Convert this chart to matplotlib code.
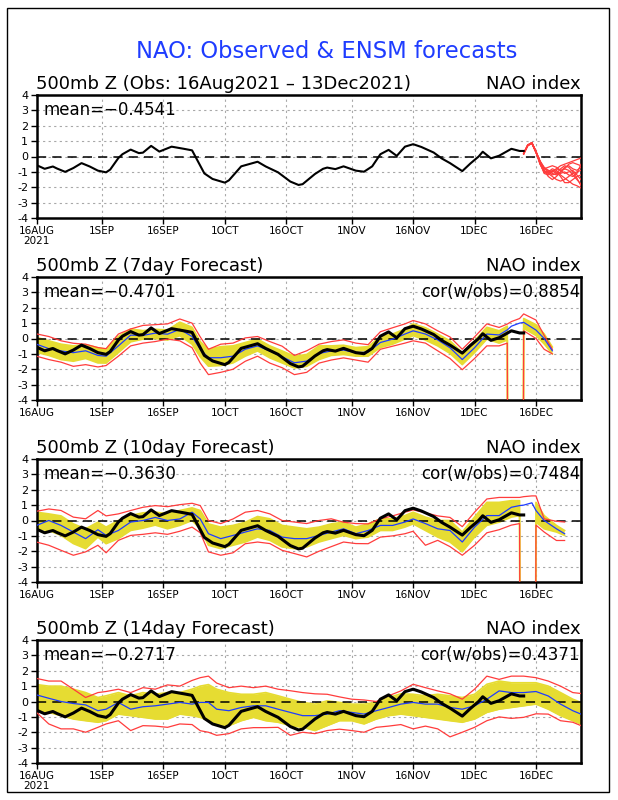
import numpy as np
import matplotlib
matplotlib.use("Agg")
import matplotlib.pyplot as plt
from matplotlib.patches import Rectangle

# x axis: days since 16 Aug 2021 (0) to 27 Dec 2021 (133)
tick_days = [0, 16, 31, 46, 61, 77, 92, 107, 122]
tick_labels = ["16AUG", "1SEP", "16SEP", "1OCT", "16OCT", "1NOV", "16NOV", "1DEC", "16DEC"]

# observed NAO index
obs_day = [0, 2, 4, 5, 7, 9, 11, 13, 15, 17, 18, 20, 21, 23, 25, 26, 28, 30, 33, 36, 38, 39,
           41, 43, 46, 47, 50, 54, 56, 59, 62, 64, 65, 68, 70, 71, 73, 75, 78, 80, 82, 84,
           86, 88, 90, 92, 94, 97, 99, 101, 104, 106, 108, 109, 111, 113, 116, 118, 119]
obs_val = [-0.56, -0.80, -0.65, -0.78, -1.00, -0.75, -0.43, -0.65, -0.92, -1.03, -0.85, -0.10,
           0.15, 0.45, 0.22, 0.25, 0.69, 0.32, 0.64, 0.50, 0.40, -0.10, -1.10, -1.46, -1.70,
           -1.55, -0.64, -0.34, -0.65, -1.03, -1.63, -1.85, -1.80, -1.14, -0.80, -0.72, -0.82,
           -0.64, -0.92, -0.99, -0.64, 0.15, 0.43, 0.04, 0.64, 0.80, 0.62, 0.26, -0.13, -0.43,
           -0.95, -0.45, 0.00, 0.31, -0.12, 0.05, 0.50, 0.36, 0.36]

# ensemble members from 13 Dec (day 119) to 27 Dec (day 133)
ens_day = list(range(119, 134))
ens_members = [
    [0.20, 0.75, 0.90, 0.30, -0.30, -0.70, -0.90, -1.00, -0.80, -0.60, -0.50, -0.40, -0.30, -0.20, -0.10],
    [0.20, 0.70, 0.85, 0.25, -0.40, -0.90, -1.10, -1.30, -1.50, -1.60, -1.50, -1.30, -1.10, -1.00, -0.90],
    [0.15, 0.70, 0.90, 0.35, -0.50, -1.00, -1.00, -0.80, -0.90, -1.20, -1.40, -1.60, -1.80, -1.90, -2.05],
    [0.20, 0.75, 0.85, 0.30, -0.35, -0.80, -0.70, -0.60, -0.70, -0.90, -0.80, -0.50, -0.40, -0.50, -0.60],
    [0.20, 0.72, 0.88, 0.28, -0.45, -1.10, -1.20, -1.00, -0.80, -0.90, -1.10, -1.00, -0.90, -1.20, -1.50],
    [0.18, 0.74, 0.90, 0.32, -0.30, -0.90, -1.30, -1.50, -1.30, -1.00, -0.80, -0.90, -1.20, -1.50, -1.80],
    [0.20, 0.76, 0.87, 0.26, -0.40, -0.80, -0.90, -1.10, -1.20, -1.00, -0.70, -0.60, -0.80, -0.90, -0.70],
    [0.20, 0.73, 0.90, 0.30, -0.50, -1.00, -1.10, -0.90, -1.00, -1.30, -1.70, -1.70, -1.50, -1.30, -1.20],
    [0.15, 0.75, 0.86, 0.34, -0.30, -0.75, -1.00, -1.20, -1.10, -0.80, -0.60, -0.70, -1.00, -1.40, -1.90],
    [0.20, 0.70, 0.90, 0.30, -0.40, -0.95, -1.05, -0.95, -1.10, -1.10, -1.00, -1.20, -1.30, -1.10, -0.50],
]

# forecasts: day, ensemble mean, band low/high, min/max  (-99 = missing)
f7_day = [0, 3, 6, 9, 12, 15, 17, 20, 23, 26, 29, 32, 35, 38, 40, 42, 45, 48, 51, 54, 57, 60, 63,
          66, 69, 72, 75, 78, 81, 84, 87, 90, 92, 95, 98, 101, 104, 107, 110, 113, 115, 116, 118,
          119, 122, 124, 126]
f7_mean = [-0.37, -0.66, -0.81, -0.92, -0.80, -1.10, -1.15, -0.48, 0.22, 0.20, 0.35, 0.28, 0.60,
           0.13, -0.70, -1.25, -1.25, -1.15, -0.70, -0.48, -0.81, -1.19, -1.58, -1.47, -0.97,
           -0.81, -0.75, -0.92, -0.88, -0.26, -0.04, 0.29, 0.50, 0.29, -0.09, -0.60, -1.37, -0.60,
           0.29, 0.23, 0.56, 0.80, 1.00, 1.05, 0.55, 0.00, -0.80]
f7_blo = [-0.90, -1.10, -1.37, -1.48, -1.30, -1.59, -1.60, -0.92, -0.22, -0.04, 0.00, -0.10, 0.18,
          -0.37, -1.20, -1.80, -1.76, -1.59, -1.15, -0.81, -1.26, -1.59, -1.92, -1.81, -1.37,
          -1.10, -1.04, -1.15, -1.15, -0.59, -0.37, -0.04, 0.18, -0.10, -0.48, -0.97, -1.70,
          -0.92, -0.04, -0.30, -0.10, -99, -99, 0.65, 0.20, -0.35, -1.00]
f7_bhi = [0.07, -0.15, -0.37, -0.48, -0.40, -0.60, -0.70, 0.13, 0.62, 0.51, 0.60, 0.55, 1.06,
          0.73, -0.20, -0.70, -0.53, -0.48, -0.26, -0.04, -0.48, -0.81, -1.15, -1.04, -0.48,
          -0.48, -0.44, -0.59, -0.53, 0.13, 0.29, 0.62, 0.95, 0.70, 0.29, -0.15, -0.92, -0.15,
          0.73, 0.50, 0.80, -99, -99, 1.30, 0.90, 0.30, -0.55]
f7_rlo = [-1.15, -1.37, -1.54, -1.81, -1.70, -1.85, -1.76, -1.15, -0.48, -0.30, -0.20, -0.04,
          -0.15, -0.60, -1.60, -2.35, -2.20, -2.00, -1.48, -1.15, -1.60, -1.90, -2.35, -2.20,
          -1.60, -1.40, -1.26, -1.40, -1.54, -0.70, -0.50, -0.30, -0.15, -0.30, -0.80, -1.30,
          -2.03, -1.30, -0.48, -0.48, -0.30, -99, -99, 0.50, 0.00, -0.70, -1.00]
f7_rhi = [0.30, 0.13, -0.15, -0.31, -0.37, -0.59, -0.66, 0.29, 0.62, 0.85, 0.90, 0.95, 1.27,
          1.00, 0.10, -0.70, -0.37, -0.30, 0.04, 0.13, -0.20, -0.50, -1.10, -0.80, -0.37, -0.20,
          -0.09, -0.30, -0.40, 0.44, 0.70, 0.95, 1.17, 0.95, 0.50, 0.10, -0.70, 0.10, 0.95,
          0.72, 0.94, 1.10, 1.30, 1.60, 1.20, 0.20, -0.70]

f10_day = [0, 3, 6, 9, 12, 15, 17, 20, 23, 26, 29, 32, 35, 38, 40, 42, 45, 48, 51, 54, 57, 60,
           63, 66, 69, 72, 75, 78, 81, 84, 87, 90, 92, 95, 98, 101, 104, 107, 110, 113, 116, 118,
           119, 121, 122, 124, 127, 129]
f10_mean = [-0.32, 0.00, -0.32, -0.75, -1.18, -0.60, -0.97, -0.65, -0.10, 0.00, 0.20, 0.00,
            0.10, 0.54, 0.10, -0.86, -1.18, -0.97, -0.75, -0.54, -0.65, -1.08, -1.18, -1.18,
            -0.97, -0.75, -0.54, -0.86, -0.65, -0.32, -0.32, -0.10, 0.10, -0.20, -0.54, -0.65,
            -1.40, -0.43, 0.32, 0.32, 0.86, 0.97, 1.00, 1.15, 0.65, 0.00, -0.54, -0.86]
f10_blo = [-0.54, -0.65, -0.97, -1.50, -1.83, -1.08, -1.51, -1.18, -0.65, -0.50, -0.30, -0.54,
           -0.32, 0.00, -0.54, -1.61, -1.83, -1.61, -1.40, -1.08, -1.29, -1.72, -1.83, -1.72,
           -1.40, -1.18, -0.97, -1.18, -1.08, -0.65, -0.65, -0.43, -0.22, -0.65, -1.08, -1.40,
           -2.04, -1.08, -0.32, -0.11, 0.22, 0.32, -99, -99, -0.11, -0.54, -0.75, -0.97]
f10_bhi = [0.54, 0.43, 0.30, -0.22, -0.54, -0.11, -0.43, 0.00, 0.32, 0.50, 0.55, 0.43, 0.65,
           0.82, 0.65, -0.22, -0.43, -0.32, -0.11, 0.26, 0.11, -0.32, -0.43, -0.54, -0.43, -0.22,
           -0.11, -0.43, -0.22, 0.11, 0.11, 0.32, 0.54, 0.22, 0.00, 0.00, -0.75, 0.22, 1.18,
           1.18, 1.29, 1.29, -99, -99, 1.18, 0.32, -0.32, -0.65]
f10_rlo = [-1.40, -1.61, -1.94, -2.26, -2.04, -1.61, -2.10, -1.29, -0.97, -0.90, -0.80, -0.90,
           -0.70, -0.43, -0.80, -2.04, -2.26, -2.10, -1.51, -1.40, -1.50, -1.94, -2.15, -2.37,
           -2.00, -1.70, -1.40, -1.50, -1.51, -1.08, -1.00, -0.86, -0.70, -1.61, -1.29, -1.70,
           -2.26, -1.61, -0.80, -0.60, -0.30, -0.20, -99, -99, -0.30, -0.75, -1.30, -1.30]
f10_rhi = [0.60, 0.75, 0.65, 0.22, 0.11, 0.65, 0.30, 0.43, 0.65, 0.86, 0.97, 0.90, 1.03, 1.12,
           0.97, 0.00, -0.20, 0.10, 0.54, 0.65, 0.43, 0.00, -0.10, -0.20, 0.00, 0.11, -0.11,
           -0.20, -0.22, 0.11, 0.30, 0.54, 0.69, 0.50, 0.30, 0.20, -0.40, 0.54, 1.40, 1.50, 1.50,
           1.50, 1.55, 1.60, 1.60, 0.11, -0.05, -0.10]

f14_day = [0, 3, 6, 9, 12, 15, 17, 20, 23, 26, 29, 32, 35, 38, 40, 42, 44, 47, 50, 53, 56, 59,
           62, 65, 68, 71, 74, 77, 80, 83, 86, 89, 92, 95, 98, 101, 104, 107, 110, 113, 116, 119,
           122, 125, 128, 131, 133]
f14_mean = [0.43, 0.21, 0.00, -0.13, -0.22, -0.60, -0.50, -0.06, -0.50, -0.34, -0.28, -0.17,
            -0.06, -0.17, -0.06, -0.06, -0.50, -0.60, -0.39, -0.28, -0.28, -0.50, -0.71, -0.92,
            -0.92, -0.82, -0.60, -0.71, -0.82, -0.60, -0.39, -0.17, -0.06, -0.17, -0.17, -0.39,
            -0.50, -0.28, 0.15, 0.69, 0.58, 0.58, 0.65, 0.36, -0.17, -0.60, -0.82]
f14_blo = [-0.50, -0.71, -0.92, -1.14, -1.25, -1.35, -1.25, -0.82, -0.92, -1.03, -1.14, -1.14,
           -0.82, -0.92, -1.03, -1.25, -1.46, -1.57, -1.25, -1.03, -1.25, -1.35, -1.57, -1.68,
           -1.89, -1.57, -1.25, -1.25, -1.46, -1.14, -0.92, -0.82, -0.92, -1.03, -1.14, -1.25,
           -1.35, -1.14, -0.71, -0.50, -0.39, -0.28, -0.17, -0.50, -0.92, -1.25, -1.46]
f14_bhi = [1.10, 1.00, 1.00, 0.80, 0.58, 0.26, 0.37, 0.58, 0.37, 0.58, 0.47, 0.58, 0.58, 0.80,
           1.00, 1.10, 0.80, 0.58, 0.47, 0.47, 0.58, 0.37, 0.15, -0.06, -0.17, 0.04, -0.06, -0.17,
           -0.17, -0.06, 0.26, 0.50, 0.47, 0.37, 0.47, 0.37, 0.26, 0.47, 1.12, 1.33, 1.22, 1.22,
           1.22, 1.00, 0.58, 0.15, -0.06]
f14_rlo = [-0.71, -1.46, -1.78, -1.78, -2.00, -1.68, -1.46, -1.25, -1.89, -1.57, -1.60, -1.68,
           -1.46, -1.50, -1.90, -2.00, -2.20, -2.09, -1.78, -1.70, -1.70, -1.68, -2.20, -2.00,
           -2.09, -1.89, -1.80, -1.89, -2.00, -1.68, -1.60, -1.50, -1.78, -1.60, -1.78, -2.30,
           -2.00, -1.68, -1.25, -1.00, -1.10, -1.03, -0.80, -0.82, -1.25, -1.35, -1.57]
f14_rhi = [1.50, 1.33, 1.33, 0.80, 0.26, 0.58, 0.65, 0.80, 0.58, 0.90, 0.80, 1.08, 1.00, 1.37,
           1.55, 1.65, 1.20, 0.90, 1.00, 0.90, 1.00, 0.80, 0.70, 0.58, 0.50, 0.47, 0.30, 0.15,
           0.10, 0.00, 0.37, 0.69, 1.12, 0.90, 0.69, 0.50, 0.15, 0.80, 1.65, 1.44, 1.65, 1.65,
           1.55, 1.33, 1.00, 0.58, 0.52]

titles = ["500mb Z (Obs: 16Aug2021 \u2013 13Dec2021)", "500mb Z (7day Forecast)",
          "500mb Z (10day Forecast)", "500mb Z (14day Forecast)"]
means = ["\u22120.4541", "\u22120.4701", "\u22120.3630", "\u22120.2717"]
cors = [None, "0.8854", "0.7484", "0.4371"]

YELLOW = "#E6DC32"
RED = "#FF3C3C"
BLUE = "#1E3CFF"

W, H = 618, 800
fig = plt.figure(figsize=(W / 100, H / 100), dpi=100)
fig.patches.append(Rectangle((7 / W, 1 - 792 / H), 602 / W, 784 / H, transform=fig.transFigure,
                             fill=False, edgecolor="black", linewidth=1.0))
fig.text(327 / W, 1 - 52 / H, "NAO: Observed & ENSM forecasts", color=BLUE, fontsize=16.3,
         ha="center", va="center")

tops = [95, 277, 459, 640]
forecasts = [None,
             (f7_day, f7_mean, f7_blo, f7_bhi, f7_rlo, f7_rhi),
             (f10_day, f10_mean, f10_blo, f10_bhi, f10_rlo, f10_rhi),
             (f14_day, f14_mean, f14_blo, f14_bhi, f14_rlo, f14_rhi)]

for i, top in enumerate(tops):
    ax = fig.add_axes([36.5 / W, 1 - (top + 123) / H, 544.5 / W, 123 / H])
    ax.set_xlim(0, 133)
    ax.set_ylim(-4, 4)
    ax.set_yticks(range(-4, 5))
    ax.set_yticklabels([str(v) for v in range(-4, 5)], fontsize=8)
    ax.set_xticks(tick_days)
    labs = list(tick_labels)
    if i in (0, 3):
        labs[0] = "16AUG\n2021"
    ax.set_xticklabels(labs, fontsize=7.5, linespacing=1.0)
    ax.tick_params(direction="out", length=4, width=1, pad=2)
    for s in ax.spines.values():
        s.set_linewidth(1.8)
    ax.grid(True, color="#a8a8a8", linestyle=(0, (2, 3)), linewidth=0.8)
    ax.set_axisbelow(True)

    fc = forecasts[i]
    if fc is not None:
        d, m, blo, bhi, rlo, rhi = [np.array(a, dtype=float) for a in fc]
        ok = blo > -90
        ax.fill_between(d, blo, bhi, where=ok, color=YELLOW, linewidth=0, zorder=2)
        ax.plot(d, blo, color=YELLOW, lw=1.2, zorder=2)
        ax.plot(d, bhi, color=YELLOW, lw=1.2, zorder=2)
    ax.axhline(0, color="black", lw=1.1, linestyle=(0, (6, 4)), zorder=3)
    if fc is not None:
        ax.plot(d, rlo, color=RED, lw=0.9, zorder=4)
        ax.plot(d, rhi, color=RED, lw=0.9, zorder=4)
        ax.plot(d, m, color=BLUE, lw=0.9, zorder=5)
        ax.plot(obs_day, obs_val, color="black", lw=2.2, zorder=6)
    else:
        ax.plot(obs_day, obs_val, color="black", lw=1.5, zorder=6)
        for mem in ens_members:
            ax.plot(ens_day, mem, color=RED, lw=0.9, zorder=5)

    ax.text(0.0, 1.049, titles[i], transform=ax.transAxes, fontsize=13, ha="left", va="baseline")
    ax.text(1.0, 1.049, "NAO index", transform=ax.transAxes, fontsize=13, ha="right", va="baseline")
    ax.text(0.012, 0.955, "mean=" + means[i], transform=ax.transAxes, fontsize=12,
            ha="left", va="top", zorder=7)
    if cors[i] is not None:
        ax.text(0.998, 0.955, "cor(w/obs)=" + cors[i], transform=ax.transAxes, fontsize=12,
                ha="right", va="top", zorder=7)

fig.savefig("out.png", dpi=100)
